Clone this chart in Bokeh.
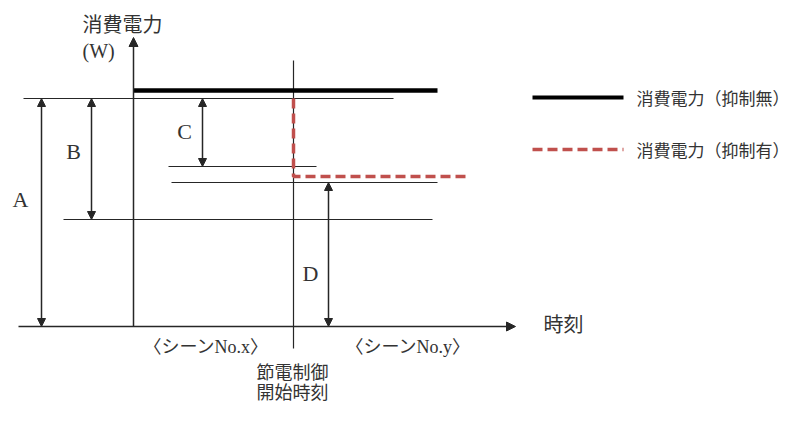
from bokeh.plotting import figure
from bokeh.models import Range1d, Arrow, NormalHead, ColumnDataSource
from bokeh.core.properties import value
from bokeh.embed import file_html
from bokeh.resources import INLINE

# ---- diagram values (power in W-like diagram units, time in diagram units; origin = axis crossing)
p_no_control = 236      # 消費電力(抑制無)
p_ref = 228             # reference level (top of A, B, C)
p_c_low = 160           # bottom of C
p_control = 150         # 消費電力(抑制有)
p_d_top = 144           # top of D
p_b_low = 107           # bottom of B
t_control_start = 160   # 節電制御開始時刻
t_end_no = 304
t_end_ctrl = 334

# reference (thin) lines: level, x-start, x-end
ref_levels = [p_ref, p_c_low, p_d_top, p_b_low]
ref_x0 = [-110, 35, 38, -70]
ref_x1 = [260, 183, 304, 299]

# dimension arrows A, B, C, D
dim_names = ["A", "B", "C", "D"]
dim_x = [-92, -42, 69, 195]
dim_top = [p_ref, p_ref, p_ref, p_d_top]
dim_bottom = [0, p_b_low, p_c_low, 0]
dim_label_x = [-113, -60, 51, 177]
dim_label_y = [127, 175, 195, 53]

legend_labels = ["消費電力（抑制無）", "消費電力（抑制有）"]
legend_y = [229, 177]

JP = value("Noto Sans CJK JP")
SERIF = value("Liberation Serif")
MIX = value("Liberation Serif, Noto Sans CJK JP")

p = figure(width=793, height=405, output_backend="svg", toolbar_location=None,
           x_range=Range1d(-133, 660), y_range=Range1d(-79, 326),
           x_axis_type=None, y_axis_type=None, min_border=0,
           background_fill_color="white", border_fill_color="white")
p.outline_line_color = None
p.grid.visible = False

line_col = "#262626"
red = "#C0504D"
txt_col = "#333333"

# axes
p.add_layout(Arrow(x_start=0, y_start=0, x_end=0, y_end=289, line_width=1.5, line_color=line_col,
                   end=NormalHead(size=9, fill_color=line_col, line_color=line_col)))
p.add_layout(Arrow(x_start=-115, y_start=0, x_end=382, y_end=0, line_width=1.5, line_color=line_col,
                   end=NormalHead(size=9, fill_color=line_col, line_color=line_col)))

# control start divider
p.line([t_control_start, t_control_start], [266, -22], line_color=line_col, line_width=1.2)

# reference lines
p.segment(x0=ref_x0, x1=ref_x1, y0=ref_levels, y1=ref_levels, line_color=line_col, line_width=1.2)

# power curves
p.line([0, t_end_no], [p_no_control, p_no_control], line_color="black", line_width=4.5)
p.line([t_control_start, t_control_start, t_end_ctrl], [p_ref, p_control, p_control],
       line_color=red, line_width=3.5, line_dash="10 5")

# dimension arrows
src = ColumnDataSource(dict(x=dim_x, top=dim_top, bottom=dim_bottom))
p.add_layout(Arrow(x_start="x", y_start="bottom", x_end="x", y_end="top", source=src,
                   line_width=1.5, line_color=line_col,
                   start=NormalHead(size=8, fill_color=line_col, line_color=line_col),
                   end=NormalHead(size=8, fill_color=line_col, line_color=line_col)))
p.text(x=dim_label_x, y=dim_label_y, text=dim_names, text_font=SERIF, text_font_size="22px",
       text_align="center", text_baseline="middle", text_color=txt_col)

# axis labels
p.text(x=[-51], y=[303], text=["消費電力"], text_font=JP, text_font_size="20px",
       text_align="left", text_baseline="middle", text_color=txt_col)
p.text(x=[-51], y=[276], text=["(W)"], text_font=SERIF, text_font_size="20px",
       text_align="left", text_baseline="middle", text_color=txt_col)
p.text(x=[410], y=[3], text=["時刻"], text_font=JP, text_font_size="20px",
       text_align="left", text_baseline="middle", text_color=txt_col)

# scenes
p.text(x=[10, 212], y=[-20, -20], text=["〈シーンNo.x〉", "〈シーンNo.y〉"], text_font=MIX,
       text_font_size="18px", text_align="left", text_baseline="middle", text_color=txt_col)
p.text(x=[159, 159], y=[-44, -64], text=["節電制御", "開始時刻"], text_font=JP,
       text_font_size="18px", text_align="center", text_baseline="middle", text_color=txt_col)

# legend
p.line([399, 490], [legend_y[0], legend_y[0]], line_color="black", line_width=4)
p.line([399, 490], [legend_y[1], legend_y[1]], line_color=red, line_width=3.5, line_dash="10 5")
p.text(x=[503, 503], y=legend_y, text=legend_labels, text_font=JP, text_font_size="17px",
       text_align="left", text_baseline="middle", text_color=txt_col)

open("out.html", "w").write(file_html(p, INLINE))
